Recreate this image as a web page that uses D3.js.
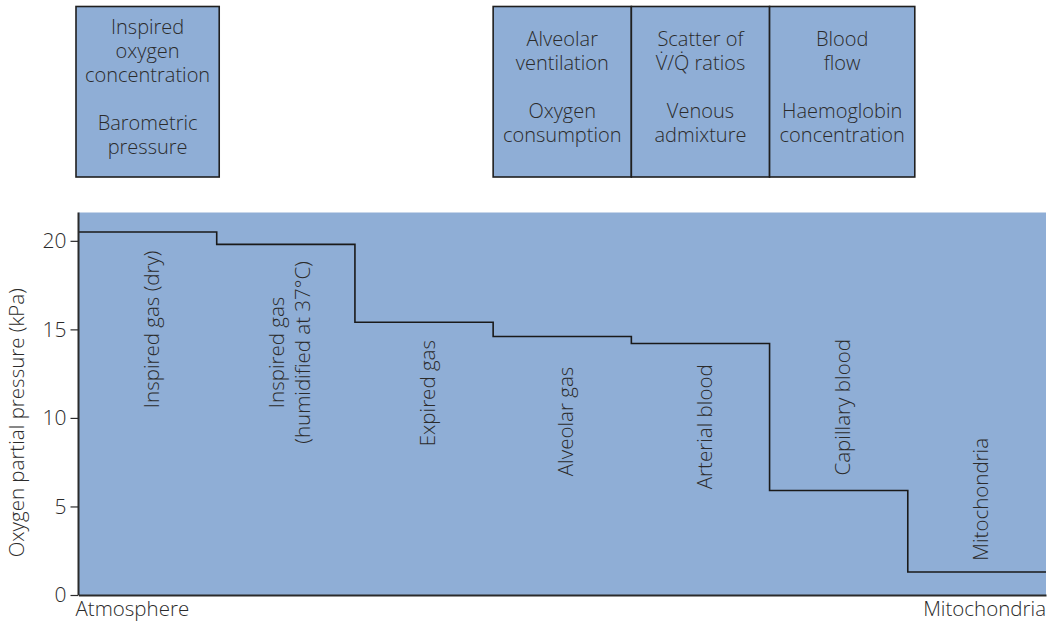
<!DOCTYPE html>
<html>
<head>
<meta charset="utf-8">
<script src="https://cdn.jsdelivr.net/npm/d3@7"></script>
<style>
  html, body { margin: 0; padding: 0; background: #fff; }
  svg { display: block; }
  text { font-family: "Open Sans", "Lato", sans-serif; font-weight: 300; fill: #2b2b2b; }
</style>
</head>
<body>
<svg id="chart" width="1047" height="623"></svg>
<script>
// ---- data ----
const stages = ["Inspired gas (dry)", "Inspired gas\n(humidified at 37°C)", "Expired gas", "Alveolar gas", "Arterial blood", "Capillary blood", "Mitochondria"];
const po2 = [20.5, 19.8, 15.4, 14.6, 14.2, 5.9, 1.3];
const labelLevel = [15.0, 13.7, 11.4, 9.8, 9.5, 10.6, 5.4];   // kPa level where each stage label is centred
const yTicks = [0, 5, 10, 15, 20];
const yTitle = "Oxygen partial pressure (kPa)";
const xEnds = ["Atmosphere", "Mitochondria"];
const factorBoxes = [
  { stage: 0, lines: ["Inspired", "oxygen", "concentration", "", "Barometric", "pressure"] },
  { stage: 3, lines: ["Alveolar", "ventilation", "", "Oxygen", "consumption"] },
  { stage: 4, lines: ["Scatter of", "V\u0307/Q\u0307 ratios", "", "Venous", "admixture"] },
  { stage: 5, lines: ["Blood", "flow", "", "Haemoglobin", "concentration"] }
];

// ---- layout ----
const fill = "#8faed6";
const ink = "#2b2b2b";
const fs = 20.5;
const plot = { left: 78.5, right: 1046, top: 212.5, bottom: 595 };

const svg = d3.select("#chart");

const x = d3.scaleBand().domain(d3.range(stages.length)).range([plot.left, plot.right]).padding(0);
const y = d3.scaleLinear().domain([0, 21.6]).range([plot.bottom, plot.top]);

// plot background
svg.append("rect")
  .attr("x", plot.left).attr("y", plot.top)
  .attr("width", plot.right - plot.left).attr("height", plot.bottom - plot.top)
  .attr("fill", fill);

// step line
const pts = [];
po2.forEach((v, i) => {
  pts.push([x(i), y(v)]);
  pts.push([x(i) + x.bandwidth(), y(v)]);
});
svg.append("path")
  .attr("d", d3.line()(pts))
  .attr("fill", "none")
  .attr("stroke", "#1a1a1a")
  .attr("stroke-width", 1.6);

// stage labels (rotated)
stages.forEach((s, i) => {
  const lines = s.split("\n");
  const cx = x(i) + x.bandwidth() / 2 + 4;
  const cy = y(labelLevel[i]);
  const lh = 26;
  const t = svg.append("text")
    .attr("transform", `translate(${cx},${cy}) rotate(-90)`)
    .attr("text-anchor", "middle")
    .attr("font-size", fs);
  lines.forEach((l, k) => {
    t.append("tspan")
      .attr("x", 0)
      .attr("y", (k - (lines.length - 1) / 2) * lh)
      .attr("dy", "0.35em")
      .text(l);
  });
});

// y axis
const yAxis = d3.axisLeft(y).tickValues(yTicks).tickSize(8).tickPadding(4);
const gy = svg.append("g").attr("transform", `translate(${plot.left},0)`).call(yAxis);
gy.select(".domain").attr("stroke", ink).attr("stroke-width", 2)
  .attr("d", `M0,${plot.top}V${plot.bottom}`);
gy.selectAll(".tick line").attr("stroke", ink).attr("stroke-width", 1.2);
gy.selectAll(".tick text").attr("font-size", 21).attr("fill", ink)
  .style("font-family", '"Open Sans", "Lato", sans-serif').style("font-weight", 300);

// x axis baseline
const xAxis = d3.axisBottom(x).tickValues([]).tickSizeOuter(0);
const gx = svg.append("g").attr("transform", `translate(0,${plot.bottom})`).call(xAxis);
gx.select(".domain").attr("stroke", ink).attr("stroke-width", 2);

// x end labels
svg.append("text").attr("x", plot.left - 3).attr("y", 616).attr("font-size", fs)
  .attr("text-anchor", "start").text(xEnds[0]);
svg.append("text").attr("x", plot.right).attr("y", 616).attr("font-size", fs)
  .attr("text-anchor", "end").text(xEnds[1]);

// y title
svg.append("text")
  .attr("transform", `translate(24,${(y(0) + y(21.6)) / 2 + 19}) rotate(-90)`)
  .attr("text-anchor", "middle")
  .attr("font-size", fs)
  .text(yTitle);

// factor boxes
const boxTop = 6.5, boxBottom = 177;
factorBoxes.forEach(b => {
  const x0 = x(b.stage) - (b.stage === 0 ? 2.5 : 0);
  const x1 = x(b.stage) + x.bandwidth() + (b.stage === 0 ? 2.5 : (b.stage === 5 ? 7 : 0));
  svg.append("rect")
    .attr("x", x0).attr("y", boxTop)
    .attr("width", x1 - x0).attr("height", boxBottom - boxTop)
    .attr("fill", fill).attr("stroke", "#1f1f1f").attr("stroke-width", 1.6);
  const startY = b.stage === 0 ? 27 : 39;
  const t = svg.append("text").attr("text-anchor", "middle").attr("font-size", 20);
  b.lines.forEach((l, k) => {
    if (!l) return;
    t.append("tspan").attr("x", (x0 + x1) / 2).attr("y", startY + k * 24).attr("dy", "0.35em").text(l);
  });
});
</script>
</body>
</html>
